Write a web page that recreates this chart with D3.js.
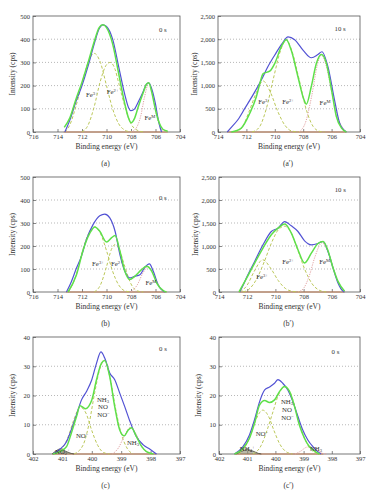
<!DOCTYPE html>
<html><head><meta charset="utf-8">
<script src="https://cdn.jsdelivr.net/npm/d3@7"></script>
<style>body{margin:0;background:#fff}svg{display:block}</style></head>
<body><svg id="chart" width="378" height="500"></svg>
<script>
// ---------- tick labels ----------
const xTicksFe16 = [716,714,712,710,708,706,704];
const xTicksFe14 = [714,712,710,708,706,704];
const xTicksN = [402,401,400,399,398,397];
const yTicksLow = [0,100,200,300,400,500];
const yTicksHigh = [0,500,1000,1500,2000,2500];
const yTicksN = [0,10,20,30,40];

// ---------- panel (a) ----------
const aBlue = [[713.4,0],[713.0,50],[712.5,130],[712.0,200],[711.5,285],[711.0,380],[710.6,445],[710.3,462],[710.0,455],[709.5,400],[709.0,280],[708.5,160],[708.2,105],[708.0,92],[707.7,100],[707.4,130],[707.0,175],[706.75,205],[706.55,212],[706.3,185],[706.0,120],[705.8,60],[705.6,15],[705.5,0]];
const aGreen = [[713.45,20],[713.0,60],[712.5,140],[712.0,215],[711.5,300],[711.0,390],[710.6,450],[710.3,462],[710.0,450],[709.5,380],[709.0,250],[708.5,120],[708.2,60],[708.0,40],[707.7,60],[707.4,110],[707.0,170],[706.75,205],[706.55,212],[706.3,170],[706.0,95],[705.7,40],[705.4,12],[705.0,3]];
const aFe3 = [[713.4,0],[713.0,30],[712.5,110],[712.0,210],[711.5,300],[711.0,339],[710.5,300],[710.0,200],[709.5,100],[709.0,35],[708.5,8],[708.0,0]];
const aFe2 = [[712.0,0],[711.5,30],[711.0,110],[710.5,220],[710.0,290],[709.7,300],[709.3,270],[709.0,210],[708.5,110],[708.0,35],[707.5,8],[707.0,0]];
const aFe0 = [[708.0,0],[707.6,15],[707.2,70],[706.9,150],[706.55,210],[706.2,150],[705.9,70],[705.6,20],[705.3,0]];
const aBase = [[713.5,0],[705.0,0]];

// ---------- panel (a') ----------
const apBlue = [[713.35,0],[713.0,120],[712.6,264],[712.1,514],[711.4,870],[710.95,1120],[710.5,1400],[710.0,1660],[709.5,1900],[709.07,2050],[708.6,1990],[708.0,1760],[707.43,1600],[706.96,1670],[706.68,1730],[706.25,1400],[705.8,700],[705.43,190],[704.96,0]];
const apGreen = [[713.06,0],[712.36,85],[711.77,400],[711.3,760],[711.05,1050],[710.82,1260],[710.36,1310],[710.0,1480],[709.54,1840],[709.19,1990],[708.84,1760],[708.37,1190],[707.95,700],[707.78,600],[707.43,980],[707.07,1480],[706.72,1670],[706.37,1480],[706.0,900],[705.67,340],[705.3,85],[704.96,0]];
const apFe3 = [[712.8,0],[712.3,100],[711.8,450],[711.3,850],[710.83,1100],[710.3,850],[709.8,450],[709.3,150],[708.8,20],[708.3,0]];
const apFe2 = [[711.6,0],[711.1,100],[710.6,500],[710.1,1150],[709.6,1750],[709.2,1990],[708.8,1750],[708.3,1150],[707.8,500],[707.3,120],[706.8,10],[706.5,0]];
const apFe0 = [[708.3,0],[707.8,240],[707.4,780],[707.0,1450],[706.72,1670],[706.4,1450],[706.0,880],[705.6,350],[705.2,80],[704.9,0]];
const apBase = [[713.35,0],[704.95,0]];

// ---------- panel (b) ----------
const bBlue = [[713.27,0],[712.86,46],[712.45,104],[712.05,155],[711.64,228],[711.1,293],[710.55,332],[710.14,339],[709.73,322],[709.3,264],[708.9,162],[708.5,90],[708.1,61],[707.7,68],[707.27,75],[706.9,105],[706.5,122],[706.18,90],[705.77,29],[705.36,3],[705.2,0]];
const bGreen = [[713.14,0],[712.45,75],[711.9,184],[711.36,256],[710.95,283],[710.55,264],[710.0,217],[709.6,235],[709.3,246],[708.9,177],[708.5,90],[708.1,54],[707.7,68],[707.14,97],[706.73,112],[706.3,90],[705.9,39],[705.36,6],[705.1,0]];
const bFe3 = [[713.1,0],[712.5,70],[712.0,170],[711.5,250],[710.95,283],[710.5,255],[710.0,180],[709.5,90],[709.0,30],[708.5,5],[708.0,0]];
const bFe2 = [[711.0,0],[710.5,30],[710.0,110],[709.6,185],[709.3,206],[709.0,190],[708.5,110],[708.0,35],[707.5,5],[707.0,0]];
const bFe0 = [[708.0,0],[707.5,30],[707.0,85],[706.6,110],[706.2,85],[705.8,35],[705.4,5],[705.1,0]];
const bBase = [[713.3,0],[705.1,0]];

// ---------- panel (b') ----------
const bpBlue = [[712.53,0],[712.3,140],[712.06,303],[711.47,665],[710.88,1026],[710.29,1315],[709.82,1387],[709.34,1532],[708.87,1438],[708.4,1315],[707.93,1113],[707.45,1026],[706.98,1055],[706.62,1098],[706.27,880],[705.91,520],[705.56,195],[705.2,15],[705.1,0]];
const bpGreen = [[712.58,5],[712.06,290],[711.47,630],[710.88,955],[710.29,1243],[709.82,1387],[709.34,1480],[708.87,1280],[708.4,918],[707.93,630],[707.45,845],[706.98,1055],[706.62,1098],[706.27,896],[705.91,520],[705.56,230],[705.09,15]];
const bpFe3 = [[712.5,0],[712.0,150],[711.5,450],[710.9,700],[710.3,500],[709.8,250],[709.3,80],[708.8,15],[708.3,0]];
const bpFe2 = [[712.3,0],[711.8,80],[711.3,300],[710.8,650],[710.3,1050],[709.8,1350],[709.34,1430],[708.9,1300],[708.4,900],[707.9,480],[707.4,180],[706.9,40],[706.4,0]];
const bpFe0 = [[708.4,0],[708.0,80],[707.6,350],[707.2,760],[706.7,1070],[706.3,900],[705.9,520],[705.5,200],[705.1,20],[705.0,0]];
const bpBase = [[712.6,0],[705.1,0]];

// ---------- panel (c) ----------
const cBlue = [[401.32,0],[401.09,1.6],[400.86,4.2],[400.7,8.2],[400.52,13.4],[400.35,18.5],[400.18,21.4],[400.0,25.4],[399.84,31],[399.69,34.9],[399.56,32.8],[399.39,27.7],[399.22,25.4],[399.05,20.8],[398.88,16.2],[398.7,11.1],[398.48,5.9],[398.25,3.1],[398.02,1.6],[397.8,0]];
const cGreen = [[401.32,0],[401.09,0.8],[400.86,2.5],[400.7,7],[400.52,12.8],[400.4,16.5],[400.22,15.5],[400.0,18.5],[399.84,25.4],[399.67,31.1],[399.56,32],[399.39,26.5],[399.22,16.2],[399.05,8.2],[398.9,6.2],[398.76,8.2],[398.65,9],[398.48,5.9],[398.3,2.5],[398.14,0.8],[397.9,0]];
const cNOm = [[401.2,0],[401.0,2],[400.8,6],[400.6,12],[400.4,16],[400.2,14],[400.0,8],[399.8,3],[399.6,0.5],[399.4,0]];
const cMain = [[400.6,0],[400.3,3],[400.1,10],[399.9,21],[399.7,30],[399.56,32],[399.4,27],[399.2,16],[399.0,7],[398.8,2],[398.6,0]];
const cNH3 = [[399.3,0],[399.1,2],[398.9,6],[398.7,9],[398.5,7],[398.3,2.5],[398.1,0.5],[397.9,0]];
const cSmall = [[401.35,0],[401.2,1.2],[401.05,1.8],[400.9,1],[400.7,0.2],[400.6,0]];
const cBase = [[401.35,0],[397.8,0]];

// ---------- panel (c') ----------
const cpBlue = [[401.45,0],[401.15,2.5],[400.92,6.5],[400.74,11.7],[400.56,17.9],[400.38,21.9],[400.21,22.9],[400.03,24.2],[399.91,25.4],[399.74,24.2],[399.56,21.9],[399.38,17.9],[399.2,12.8],[399.03,8.2],[398.85,4.8],[398.67,2.5],[398.5,0.8],[398.38,0]];
const cpGreen = [[401.45,0],[401.15,1.9],[400.92,5.4],[400.74,10.5],[400.56,16.8],[400.38,18.3],[400.21,17.6],[400.03,18.5],[399.85,21.4],[399.68,23.1],[399.5,21.4],[399.32,16.2],[399.15,9.9],[398.97,5.4],[398.79,2.5],[398.62,1.1],[398.44,0]];
const cpNOm = [[401.3,0],[401.1,2],[400.9,6],[400.7,11.5],[400.45,15],[400.25,13],[400.05,8],[399.85,3.5],[399.65,1],[399.4,0]];
const cpMain = [[400.8,0],[400.5,3],[400.3,8],[400.1,14],[399.9,20],[399.68,23],[399.45,20.5],[399.25,14],[399.05,7.5],[398.85,3],[398.6,0.5],[398.4,0]];
const cpNH3 = [[399.3,0],[399.1,1],[398.9,2.3],[398.75,2.5],[398.55,1.5],[398.35,0.3],[398.2,0]];
const cpSmall = [[401.4,0],[401.2,0.9],[401.0,1.5],[400.8,1],[400.6,0.2],[400.5,0]];
const cpBase = [[401.45,0],[398.3,0]];

// ---------- styles ----------
const COL = {blue:"#5252d4", green:"#5ee04a", comp:"#bcc85a", metal:"#e2a3a3", base:"#c8845c", small:"#4a4a3a"};
const FONT = "'Liberation Serif','DejaVu Serif',serif";

const FE3 = [["Fe",""],["3+","sup"]];
const FE2 = [["Fe",""],["2+","sup"]];
const FEM = [["Fe",""],["M","sup"]];
const NH3 = [["NH",""],["3","sub"]];
const NO = [["NO",""]];
const NOM = [["NO",""],["−","sup"]];
const NO2P = [["NO",""],["2","sub"],["+","sup"]];
const NH4P = [["NH",""],["4","sub"],["+","sup"]];

const panels = [
 {box:[33,180,16,132], xd:[716,704], yd:[0,500], xt:xTicksFe16, yt:yTicksLow,
  main:[aBlue,aGreen], comps:[aFe3,aFe2], metal:[aFe0], small:[], base:aBase,
  labels:[[FE3,711.2,160],[FE2,709.5,172],[FEM,706.45,60],[[["0 s",""]],705.4,440]], letter:"(a)"},
 {box:[218,360,16,132], xd:[714,704], yd:[0,2500], xt:xTicksFe14, yt:yTicksHigh,
  main:[apBlue,apGreen], comps:[apFe3,apFe2], metal:[apFe0], small:[], base:apBase,
  labels:[[FE3,710.76,646],[FE2,709.07,646],[FEM,706.46,625],[[["10 s",""]],705.4,2220]], letter:"(a′)"},
 {box:[33,180,177,292], xd:[716,704], yd:[0,500], xt:xTicksFe16, yt:yTicksLow,
  main:[bBlue,bGreen], comps:[bFe3,bFe2], metal:[bFe0], small:[], base:bBase,
  labels:[[FE3,710.7,122],[FE2,709.15,122],[FEM,706.37,39],[[["0 s",""]],705.4,409]], letter:"(b)"},
 {box:[219,360,177,292], xd:[714,704], yd:[0,2500], xt:xTicksFe14, yt:yTicksHigh,
  main:[bpBlue,bpGreen], comps:[bpFe3,bpFe2], metal:[bpFe0], small:[], base:bpBase,
  labels:[[FE3,710.95,326],[FE2,709.1,652],[FEM,706.5,652],[[["10 s",""]],705.4,2220]], letter:"(b′)"},
 {box:[33,180,337,454], xd:[402,397], yd:[0,40], xt:xTicksN, yt:yTicksN,
  main:[cBlue,cGreen], comps:[cNOm,cMain], metal:[cNH3], small:[cSmall], base:cBase,
  labels:[[NH3,399.62,18.7],[NO,399.62,16.1],[NOM,399.6,13.5],[NOM,400.33,6.2],[NH3,398.6,3.8],[NO2P,401.0,0.9],[[["0 s",""]],397.58,35.9]], letter:"(c)"},
 {box:[219,360,337,454], xd:[402,397], yd:[0,40], xt:xTicksN, yt:yTicksN,
  main:[cpBlue,cpGreen], comps:[cpNOm,cpMain], metal:[cpNH3], small:[cpSmall], base:cpBase,
  labels:[[NH3,399.59,17.8],[NO,399.59,15.2],[NOM,399.57,12.6],[NOM,400.48,6.8],[NH3,398.56,1.7],[NH4P,401.0,1.7],[[["0 s",""]],397.87,34.9]], letter:"(c′)"}
];

const svg = d3.select("#chart");
const fmt = d3.format(",");

panels.forEach(p => {
  const [x0,x1,y0,y1] = p.box;
  const x = d3.scaleLinear().domain(p.xd).range([x0,x1]);
  const y = d3.scaleLinear().domain(p.yd).range([y1,y0]);
  const g = svg.append("g");
  const line = d3.line().x(d=>x(d[0])).y(d=>y(d[1])).curve(d3.curveMonotoneX);

  // grid
  g.selectAll(".grid").data(p.yt.slice(1,-1)).join("line")
    .attr("x1",x0).attr("x2",x1).attr("y1",d=>y(d)).attr("y2",d=>y(d))
    .attr("stroke","#9a9a9a").attr("stroke-width",0.7).attr("stroke-dasharray","1,2");

  // axes (inward ticks)
  const ax = g.append("g").attr("transform",`translate(0,${y1})`)
    .call(d3.axisBottom(x).tickValues(p.xt).tickSize(-3).tickPadding(2).tickFormat(d3.format("d")));
  const ay = g.append("g").attr("transform",`translate(${x0},0)`)
    .call(d3.axisLeft(y).tickValues(p.yt).tickSize(-3).tickPadding(3).tickFormat(fmt));
  [ax,ay].forEach(a=>{
    a.select(".domain").remove();
    a.selectAll("line").attr("stroke","#555").attr("stroke-width",0.7);
    a.selectAll("text").attr("font-family",FONT).attr("font-size",6.5).attr("fill","#333");
  });
  g.append("rect").attr("x",x0).attr("y",y0).attr("width",x1-x0).attr("height",y1-y0)
    .attr("fill","none").attr("stroke","#555").attr("stroke-width",0.8);

  // curves
  g.append("path").attr("d",line(p.base)).attr("fill","none").attr("stroke",COL.base).attr("stroke-width",1);
  p.small.forEach(s=>{
    g.append("path").attr("d",line(s)).attr("fill","#8a8a70").attr("fill-opacity",0.6).attr("stroke",COL.small).attr("stroke-width",0.8);
  });
  p.comps.forEach(s=>{
    g.append("path").attr("d",line(s)).attr("fill","none").attr("stroke",COL.comp).attr("stroke-width",1).attr("stroke-dasharray","3,2");
  });
  p.metal.forEach(s=>{
    g.append("path").attr("d",line(s)).attr("fill","none").attr("stroke",COL.metal).attr("stroke-width",1).attr("stroke-dasharray","1.2,1.2");
  });
  g.append("path").attr("d",line(p.main[0])).attr("fill","none").attr("stroke",COL.blue).attr("stroke-width",1.2);
  g.append("path").attr("d",line(p.main[1])).attr("fill","none").attr("stroke",COL.green).attr("stroke-width",1.5);

  // labels
  p.labels.forEach(([segs,lx,ly])=>{
    const t = g.append("text").attr("x",x(lx)).attr("y",y(ly)).attr("dy","0.35em")
      .attr("text-anchor","middle").attr("font-family",FONT).attr("font-size",6.8).attr("fill","#333");
    segs.forEach(([s,k])=>{
      const ts = t.append("tspan").text(s);
      if(k==="sup") ts.attr("font-size",4.6).attr("baseline-shift","50%");
      if(k==="sub") ts.attr("font-size",4.6).attr("baseline-shift","-20%");
    });
  });

  // axis titles
  g.append("text").attr("x",(x0+x1)/2).attr("y",y1+17).attr("text-anchor","middle")
    .attr("font-family",FONT).attr("font-size",7.5).attr("fill","#333").text("Binding energy (eV)");
  const yOff = p.yd[1] > 1000 ? 21 : 18;
  g.append("text").attr("transform",`translate(${x0-yOff},${(y0+y1)/2}) rotate(-90)`).attr("text-anchor","middle")
    .attr("font-family",FONT).attr("font-size",7.5).attr("fill","#333").text("Intensity (cps)");
  g.append("text").attr("x",(x0+x1)/2 - 1).attr("y",y1+34).attr("text-anchor","middle")
    .attr("font-family",FONT).attr("font-size",7.5).attr("fill","#333").text(p.letter);
});
</script></body></html>
